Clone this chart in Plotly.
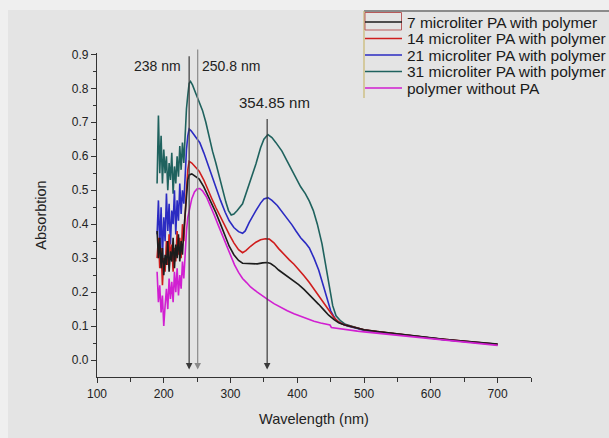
import plotly.graph_objects as go

# ---- spectra: wavelength (nm) and absorbance ----
# noisy short-wavelength region shared grid
wl_noise = [190, 192, 194, 196, 198, 200, 202, 204, 206, 208, 210, 212,
            214, 216, 218, 220, 222, 224, 226, 228, 230, 232, 234]

noise_7 = [0.38, 0.30, 0.36, 0.27, 0.33, 0.25, 0.31, 0.28, 0.35, 0.26, 0.32, 0.29,
           0.36, 0.27, 0.34, 0.30, 0.37, 0.29, 0.35, 0.31, 0.38, 0.42, 0.48]
noise_14 = [0.30, 0.36, 0.27, 0.33, 0.22, 0.30, 0.26, 0.35, 0.28, 0.37, 0.30, 0.34,
            0.26, 0.33, 0.29, 0.38, 0.31, 0.36, 0.30, 0.40, 0.35, 0.45, 0.50]
noise_21 = [0.37, 0.47, 0.33, 0.45, 0.30, 0.42, 0.35, 0.49, 0.38, 0.46, 0.34, 0.44,
            0.40, 0.50, 0.37, 0.47, 0.41, 0.52, 0.43, 0.50, 0.46, 0.56, 0.62]
noise_31 = [0.52, 0.72, 0.55, 0.66, 0.52, 0.62, 0.55, 0.60, 0.50, 0.58, 0.53, 0.61,
            0.49, 0.57, 0.52, 0.60, 0.54, 0.63, 0.56, 0.64, 0.58, 0.68, 0.74]
noise_poly = [0.26, 0.17, 0.22, 0.14, 0.19, 0.10, 0.16, 0.21, 0.15, 0.24, 0.18, 0.23,
              0.17, 0.26, 0.20, 0.27, 0.19, 0.25, 0.21, 0.29, 0.24, 0.33, 0.38]

tail_wl = [500, 520, 540, 560, 580, 600, 620, 640, 660, 680, 700]

wl_7 = [236, 238, 242, 247, 253, 260, 266, 272, 278, 285, 292, 298, 305, 312, 318,
        325, 332, 340, 348, 355, 360, 366, 372, 380, 388, 395, 402, 410, 418, 425,
        432, 440, 447, 455, 462, 470, 480, 490] + tail_wl
abs_7 = [0.53, 0.545, 0.548, 0.54, 0.533, 0.51, 0.485, 0.46, 0.434, 0.40, 0.365,
         0.335, 0.31, 0.293, 0.285, 0.284, 0.282, 0.283, 0.286, 0.287, 0.284, 0.276,
         0.265, 0.254, 0.242, 0.232, 0.222, 0.208, 0.193, 0.179, 0.164, 0.147, 0.132,
         0.119, 0.110, 0.104, 0.099, 0.094,
         0.089, 0.084, 0.079, 0.075, 0.070, 0.066, 0.061, 0.057, 0.053, 0.050, 0.047]

wl_14 = [236, 238, 242, 247, 253, 260, 266, 272, 278, 285, 292, 298, 305, 312, 318,
         323, 330, 338, 345, 352, 358, 365, 372, 380, 388, 395, 402, 410, 418, 425,
         433, 440, 447, 455, 462, 470, 480, 490] + tail_wl
abs_14 = [0.56, 0.585, 0.58, 0.57, 0.556, 0.53, 0.50, 0.475, 0.449, 0.42, 0.39,
          0.37, 0.345, 0.325, 0.316, 0.322, 0.335, 0.347, 0.354, 0.357, 0.356, 0.345,
          0.328, 0.31, 0.295, 0.282, 0.267, 0.248, 0.228, 0.208, 0.186, 0.165, 0.145,
          0.125, 0.112, 0.104, 0.099, 0.094,
          0.089, 0.084, 0.080, 0.075, 0.070, 0.065, 0.061, 0.057, 0.053, 0.050, 0.046]

wl_21 = [236, 238, 241, 245, 250, 254, 260, 266, 272, 278, 285, 292, 298, 305, 312,
         318, 322, 328, 333, 338, 345, 350, 356, 362, 370, 378, 385, 392, 398, 405,
         412, 418, 425, 432, 438, 444, 450, 457, 465, 475, 490] + tail_wl
abs_21 = [0.66, 0.68, 0.675, 0.665, 0.65, 0.64, 0.61, 0.575, 0.54, 0.507, 0.47,
          0.435, 0.41, 0.39, 0.378, 0.373, 0.38, 0.405, 0.425, 0.44, 0.462, 0.474,
          0.478, 0.47, 0.455, 0.435, 0.415, 0.398, 0.38, 0.36, 0.345, 0.33, 0.30,
          0.265, 0.225, 0.185, 0.145, 0.12, 0.108, 0.10, 0.093,
          0.088, 0.083, 0.079, 0.074, 0.069, 0.065, 0.060, 0.056, 0.052, 0.049, 0.046]

wl_31 = [236, 238, 240, 243, 248, 253, 258, 263, 268, 273, 278, 283, 288, 293, 297,
         301, 305, 310, 318, 325, 332, 338, 345, 350, 356, 362, 368, 377, 385, 392,
         398, 405, 412, 418, 424, 430, 437, 443, 448, 453, 458, 465, 472, 480, 490] + tail_wl
abs_31 = [0.78, 0.815, 0.82, 0.81, 0.785, 0.76, 0.735, 0.70, 0.655, 0.615, 0.58,
          0.54, 0.50, 0.465, 0.44, 0.427, 0.43, 0.44, 0.46, 0.50, 0.54, 0.577, 0.625,
          0.65, 0.664, 0.655, 0.64, 0.615, 0.585, 0.56, 0.537, 0.51, 0.49, 0.468,
          0.44, 0.40, 0.342, 0.27, 0.21, 0.16, 0.13, 0.115, 0.105, 0.10, 0.093,
          0.088, 0.083, 0.078, 0.074, 0.069, 0.065, 0.060, 0.056, 0.052, 0.049, 0.045]

wl_poly = [236, 238, 242, 246, 250, 254, 258, 264, 270, 276, 282, 288, 294, 300, 306,
           312, 318, 324, 330, 340, 350, 356, 365, 375, 385, 395, 405, 415, 425, 435,
           445, 449, 451, 460, 470, 480, 490] + tail_wl
abs_poly = [0.42, 0.44, 0.475, 0.495, 0.504, 0.505, 0.498, 0.48, 0.455, 0.425,
            0.395, 0.365, 0.335, 0.305, 0.28, 0.258, 0.24, 0.228, 0.215, 0.20, 0.185,
            0.178, 0.166, 0.155, 0.145, 0.136, 0.128, 0.12, 0.114, 0.109, 0.104,
            0.103, 0.096, 0.093, 0.09, 0.087, 0.085,
            0.083, 0.079, 0.075, 0.071, 0.066, 0.062, 0.057, 0.053, 0.049, 0.046, 0.043]

series_names = ["7 microliter PA with polymer", "14 microliter PA with polymer",
                "21 microliter PA with polymer", "31 microliter PA with polymer",
                "polymer without PA"]
series_colors = ["#1c1c1c", "#cf1d1d", "#2b2bc2", "#1f625e", "#d11fd1"]

series_x = [wl_noise + wl_7, wl_noise + wl_14, wl_noise + wl_21,
            wl_noise + wl_31, wl_noise + wl_poly]
series_y = [noise_7 + abs_7, noise_14 + abs_14, noise_21 + abs_21,
            noise_31 + abs_31, noise_poly + abs_poly]

# marked peak wavelengths
peak_wl = [238, 250.8, 354.85]
peak_top = [0.899, 0.919, 0.714]
peak_line_color = ["#3a3a3a", "#8a8a8a", "#3a3a3a"]
peak_label = [f"{p:g} nm" for p in peak_wl]

FONT = "Arial, Liberation Sans, sans-serif"

fig = go.Figure()
# the 31 uL spectrum goes first so the others sit on top of it
order = [3, 2, 1, 0, 4]
for i in order:
    fig.add_trace(go.Scatter(x=series_x[i], y=series_y[i], mode="lines",
                             line=dict(color=series_colors[i], width=1.6),
                             name=series_names[i], showlegend=False))

annotations = []
# downward arrows at the peak wavelengths
for p, top, c in zip(peak_wl, peak_top, peak_line_color):
    annotations.append(dict(x=p, y=-0.028, ax=p, ay=top, xref="x", yref="y",
                            axref="x", ayref="y", text="", showarrow=True,
                            arrowhead=2, arrowsize=1.1, arrowwidth=1.2,
                            arrowcolor=c))
annotations.append(dict(x=peak_wl[0], y=0.867, xref="x", yref="y", text=peak_label[0],
                        showarrow=False, xanchor="right", xshift=-6,
                        font=dict(family=FONT, size=14, color="#222")))
annotations.append(dict(x=peak_wl[1], y=0.867, xref="x", yref="y", text=peak_label[1],
                        showarrow=False, xanchor="left", xshift=2,
                        font=dict(family=FONT, size=14, color="#222")))
annotations.append(dict(x=peak_wl[2], y=0.757, xref="x", yref="y", text=peak_label[2],
                        showarrow=False, xanchor="center", xshift=7,
                        font=dict(family=FONT, size=15, color="#222")))

# legend box drawn in paper coordinates
L, T, W, H = 97, 53, 434, 324          # plot area in pixels


def px_x(px):
    return (px - L) / W


def px_y(py):
    return (T + H - py) / H


shapes = [
    # lighter outer border of the page
    dict(type="rect", xref="paper", yref="paper", x0=px_x(0), x1=px_x(609),
         y0=px_y(0), y1=px_y(10), fillcolor="#efefef", line=dict(width=0), layer="below"),
    dict(type="rect", xref="paper", yref="paper", x0=px_x(0), x1=px_x(8),
         y0=px_y(0), y1=px_y(438), fillcolor="#efefef", line=dict(width=0), layer="below"),
    # legend frame
    dict(type="line", xref="paper", yref="paper", x0=px_x(364), x1=px_x(612),
         y0=px_y(11), y1=px_y(11), line=dict(color="#333", width=1.2)),
    dict(type="line", xref="paper", yref="paper", x0=px_x(364), x1=px_x(364),
         y0=px_y(11), y1=px_y(98), line=dict(color="#c9b870", width=1.2)),
    dict(type="rect", xref="paper", yref="paper", x0=px_x(365), x1=px_x(401.5),
         y0=px_y(30), y1=px_y(12.5), line=dict(color="#b85a5a", width=1)),
]
row_y = [22, 38.5, 55, 71.5, 88]
for name, col, ry in zip(series_names, series_colors, row_y):
    shapes.append(dict(type="line", xref="paper", yref="paper", x0=px_x(365),
                       x1=px_x(402), y0=px_y(ry), y1=px_y(ry),
                       line=dict(color=col, width=1.6)))
    annotations.append(dict(x=px_x(405), y=px_y(ry), xref="paper", yref="paper",
                            text=name, showarrow=False, xanchor="left", yanchor="middle",
                            font=dict(family=FONT, size=15.5, color="#1a1a1a")))

fig.update_layout(
    width=609, height=438,
    margin=dict(l=L, r=609 - L - W, t=T, b=438 - T - H, autoexpand=False),
    paper_bgcolor="#e4e4e4", plot_bgcolor="rgba(0,0,0,0)",
    font=dict(family=FONT, size=12, color="#2a2a2a"),
    showlegend=False,
    annotations=annotations, shapes=shapes,
    xaxis=dict(range=[100, 750], tickvals=[100, 200, 300, 400, 500, 600, 700],
               showgrid=False, zeroline=False, showline=True, linecolor="#333",
               linewidth=1.3, ticks="outside", ticklen=5, tickwidth=1.3, tickcolor="#333",
               minor=dict(tickvals=[150, 250, 350, 450, 550, 650, 750], ticks="outside",
                          ticklen=4, tickwidth=1.2, tickcolor="#333"),
               tickfont=dict(size=12, color="#222"),
               title=dict(text="Wavelength (nm)", font=dict(size=14.5, color="#222"),
                          standoff=14)),
    yaxis=dict(range=[-0.05, 0.904], tickvals=[0.0, 0.1, 0.2, 0.3, 0.4, 0.5, 0.6, 0.7, 0.8, 0.9],
               tickformat=".1f",
               showgrid=False, zeroline=False, showline=True, linecolor="#333",
               linewidth=1.3, ticks="outside", ticklen=5, tickwidth=1.3, tickcolor="#333",
               minor=dict(tickvals=[0.05, 0.15, 0.25, 0.35, 0.45, 0.55, 0.65, 0.75, 0.85],
                          ticks="outside", ticklen=3, tickwidth=1.2, tickcolor="#333"),
               tickfont=dict(size=12, color="#222"),
               title=dict(text="Absorbtion", font=dict(size=14.5, color="#222"),
                          standoff=21)),
)

fig.write_html("out.html")
